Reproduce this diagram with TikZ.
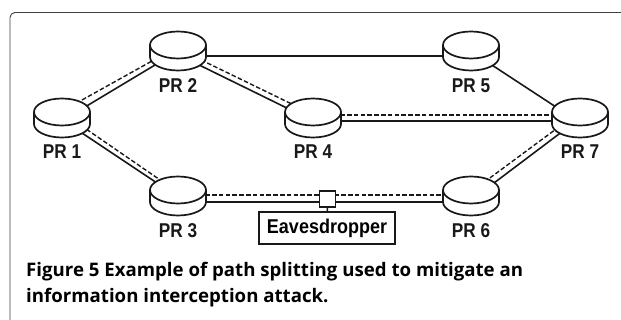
\documentclass[tikz,border=0pt]{standalone}
\usepackage{fontspec}
\setmainfont{Liberation Sans}
\newfontfamily\capfont{Open Sans}
\tikzset{
  x=1pt,y=-1pt,
  routerbase/.style={inner sep=0pt,minimum width=56pt,minimum height=40pt},
  routerline/.style={line width=1.7pt,draw=black!90},
  prlabel/.style={font=\fontsize{20}{20}\selectfont\bfseries,xscale=.86,text=black!90,inner sep=0pt},
  solidlink/.style={line width=1.6pt,draw=black!90},
  dashlink/.style={line width=1.4pt,draw=black!90,dash pattern=on 4.5pt off 2.3pt},
  frameline/.style={line width=.9pt,draw=black!75,rounded corners=5pt},
  boxed/.style={line width=1.6pt,draw=black!90,fill=white},
  captext/.style={anchor=base west,inner sep=0pt,font=\fontsize{18.65}{18.65}\selectfont\capfont\bfseries},
}
% x, y of the top ellipse centre
\newcommand{\routerdrum}[2]{%
  \draw[routerline,fill=white] (#1,#2+12) ellipse[x radius=28,y radius=13.5];
  \fill[white] (#1-28,#2) rectangle (#1+28,#2+12);
  \draw[routerline] (#1-28,#2) -- (#1-28,#2+12) (#1+28,#2) -- (#1+28,#2+12);
  \draw[routerline,fill=white] (#1,#2) ellipse[x radius=28,y radius=13.5];
}
\begin{document}
\begin{tikzpicture}
\useasboundingbox (0,0) rectangle (621,320);
\fill[white] (0,0) rectangle (621,320);
\draw[frameline] (10,320) -- (10,12.5) -- (621,12.5);
% anchor nodes
\node[routerbase] (pr1) at (62,118) {};
\node[routerbase] (pr2) at (178,51) {};
\node[routerbase] (pr3) at (178,196) {};
\node[routerbase] (pr4) at (313,118) {};
\node[routerbase] (pr5) at (471,51) {};
\node[routerbase] (pr6) at (471,196) {};
\node[routerbase] (pr7) at (580,118) {};
% links
\draw[solidlink] ([shift={(18,-8)}]pr1.center) -- ([shift={(-13,8)}]pr2.center);
\draw[dashlink]  ([shift={(20,-18)}]pr1.center) -- ([shift={(-26,10)}]pr2.center);
\draw[solidlink] ([shift={(13,10)}]pr2.center) -- ([shift={(-16,-5)}]pr4.center);
\draw[dashlink]  ([shift={(17,6)}]pr2.center) -- ([shift={(-13,-10)}]pr4.center);
\draw[solidlink] ([shift={(14,11)}]pr1.center) -- ([shift={(-12,-7)}]pr3.center);
\draw[dashlink]  ([shift={(19,7.5)}]pr1.center) -- ([shift={(-12,-12)}]pr3.center);
\draw[solidlink] ([shift={(0,5)}]pr2.center) -- ([shift={(0,5)}]pr5.center);
\draw[solidlink] ([shift={(14,9.5)}]pr5.center) -- ([shift={(-17,-6.4)}]pr7.center);
\draw[solidlink] ([shift={(0,3)}]pr4.center) -- ([shift={(0,3)}]pr7.center);
\draw[dashlink]  ([shift={(0,-3)}]pr4.center) -- ([shift={(0,-3)}]pr7.center);
\draw[solidlink] ([shift={(0,6)}]pr3.center) -- ([shift={(0,6)}]pr6.center);
\draw[dashlink]  ([shift={(0,-1)}]pr3.center) -- ([shift={(0,-1)}]pr6.center);
\draw[solidlink] ([shift={(15,-7)}]pr6.center) -- ([shift={(-13,10)}]pr7.center);
\draw[dashlink]  ([shift={(8,-10)}]pr6.center) -- ([shift={(-19,7.4)}]pr7.center);
% routers
\routerdrum{62}{112}
\routerdrum{178}{45}
\routerdrum{178}{190}
\routerdrum{313}{112}
\routerdrum{471}{45}
\routerdrum{471}{190}
\routerdrum{580}{112}
% labels
\node[prlabel] (l1) at (62,152) {PR 1};
\node[prlabel] (l2) at (178,86) {PR 2};
\node[prlabel] (l3) at (178,231) {PR 3};
\node[prlabel] (l4) at (313,152) {PR 4};
\node[prlabel] (l5) at (471,86) {PR 5};
\node[prlabel] (l6) at (471,231) {PR 6};
\node[prlabel] (l7) at (580,152) {PR 7};
% eavesdropper
\node[boxed,minimum width=16pt,minimum height=16pt,inner sep=0pt] (tap) at (327.5,199) {};
\node[boxed,minimum width=136pt,minimum height=32pt,inner sep=0pt,font=\fontsize{20}{20}\selectfont\bfseries] (eve) at (327,228) {\scalebox{.9}[1]{Eavesdropper}};
\draw[solidlink] (tap) -- (eve);
% caption
\node[captext] (cap1) at (26,277) {Figure 5 Example of path splitting used to mitigate an};
\node[captext] (cap2) at (26,303) {information interception attack.};
\end{tikzpicture}
\end{document}
